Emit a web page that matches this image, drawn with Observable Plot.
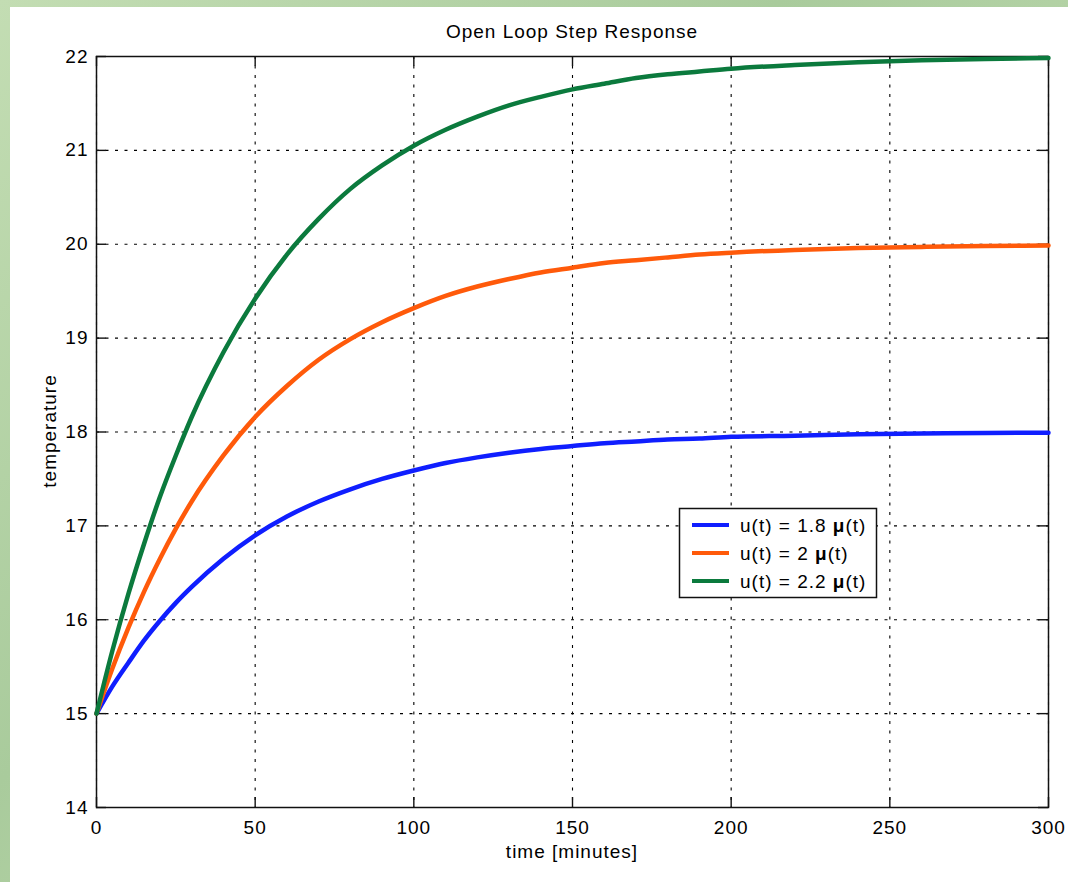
<!DOCTYPE html>
<html>
<head>
<meta charset="utf-8">
<script src="https://cdn.jsdelivr.net/npm/d3@7"></script>
<script src="https://cdn.jsdelivr.net/npm/@observablehq/plot@0.6"></script>
<style>
  html, body { margin: 0; padding: 0; }
  body {
    width: 1068px; height: 882px; overflow: hidden;
    background: linear-gradient(135deg, #c3ddb3 0%, #a9cb9c 40%, #bcd8ad 70%, #a6c999 100%);
    font-family: "Liberation Sans", Arial, Helvetica, sans-serif;
  }
  #page { position: relative; width: 1068px; height: 882px; }
  #white { position: absolute; left: 10px; top: 7px; right: 0; bottom: 0; background: #ffffff; }
  #chart { position: absolute; left: 0; top: 0; }
  #chart svg text { letter-spacing: 1px; }
</style>
</head>
<body>
<div id="page">
  <div id="white"></div>
  <div id="chart"></div>
</div>
<script>
// ---- Data ----
const titleText = "Open Loop Step Response";
const xLabel = "time [minutes]";
const yLabel = "temperature";

const time = [0, 5, 10, 15, 20, 25, 30, 40, 50, 60, 70, 80, 90, 100, 110, 120, 130, 140, 150,
              160, 170, 180, 190, 200, 220, 240, 260, 280, 300];

const tempU18 = [15.00, 15.29, 15.54, 15.78, 15.99, 16.18, 16.35, 16.65, 16.90, 17.10, 17.26, 17.39, 17.50, 17.59,
                 17.67, 17.73, 17.78, 17.82, 17.85, 17.88, 17.90, 17.92, 17.93, 17.95, 17.96, 17.975, 17.983, 17.989, 17.993];

const tempU20 = [15.00, 15.48, 15.91, 16.30, 16.65, 16.97, 17.26, 17.75, 18.16, 18.49, 18.77, 18.99, 19.17, 19.32,
                 19.45, 19.55, 19.63, 19.70, 19.75, 19.80, 19.83, 19.86, 19.89, 19.91, 19.94, 19.96, 19.972, 19.981, 19.988];

const tempU22 = [15.00, 15.67, 16.27, 16.81, 17.31, 17.75, 18.16, 18.85, 19.42, 19.89, 20.27, 20.59, 20.84, 21.05,
                 21.22, 21.36, 21.48, 21.57, 21.65, 21.71, 21.77, 21.81, 21.84, 21.87, 21.91, 21.94, 21.961, 21.974, 21.983];

const seriesKeys = ["1.8", "2", "2.2"];
const seriesColors = ["#0f1eff", "#ff5a0a", "#0b7a3d"];

const xTicks = [0, 50, 100, 150, 200, 250, 300];
const yTicks = [14, 15, 16, 17, 18, 19, 20, 21, 22];

// ---- Build long table ----
const seriesValues = [tempU18, tempU20, tempU22];
const rows = [];
seriesKeys.forEach((k, i) => {
  time.forEach((t, j) => rows.push({series: k, time: t, temp: seriesValues[i][j]}));
});

const W = 1068, H = 882;
const mL = 96, mT = 56, mR = 20, mB = 75;
const frameW = W - mL - mR, frameH = H - mT - mB;
const tickLen = 10;
const gridDash = "3,6.5";
const tickStyle = {stroke: "#111", strokeWidth: 1.4};

const plot = Plot.plot({
  width: W,
  height: H,
  marginLeft: mL,
  marginTop: mT,
  marginRight: mR,
  marginBottom: mB,
  style: {
    background: "transparent",
    fontSize: "19px",
    fontFamily: "'Liberation Sans', Arial, Helvetica, sans-serif",
    color: "#000",
    overflow: "visible"
  },
  x: {domain: [0, 300], label: null},
  y: {domain: [14, 22], label: null},
  color: {domain: seriesKeys, range: seriesColors},
  marks: [
    Plot.gridX(xTicks, {stroke: "#000", strokeOpacity: 1, strokeWidth: 1.1, strokeDasharray: gridDash}),
    Plot.gridY(yTicks, {stroke: "#000", strokeOpacity: 1, strokeWidth: 1.1, strokeDasharray: gridDash}),
    Plot.frame({stroke: "#111", strokeWidth: 1.5}),
    // inward tick marks on all four sides (MATLAB box style)
    Plot.ruleX(xTicks, {x: d => d, insetTop: frameH - tickLen, ...tickStyle}),
    Plot.ruleX(xTicks, {x: d => d, insetBottom: frameH - tickLen, ...tickStyle}),
    Plot.ruleY(yTicks, {y: d => d, insetRight: frameW - tickLen, ...tickStyle}),
    Plot.ruleY(yTicks, {y: d => d, insetLeft: frameW - tickLen, ...tickStyle}),
    Plot.axisX(xTicks, {anchor: "bottom", tickSize: 0, tickPadding: 13, label: null, tickFormat: d => String(d)}),
    Plot.axisY(yTicks, {anchor: "left", tickSize: 0, tickPadding: 8, label: null, tickFormat: d => String(d)}),
    Plot.line(rows, {x: "time", y: "temp", z: "series", stroke: "series", strokeWidth: 4.5, curve: "monotone-x"})
  ]
});

document.getElementById("chart").appendChild(plot);

// ---- Titles and legend (pixel-positioned annotations) ----
const svg = d3.select(plot);
const fontFam = "'Liberation Sans', Arial, Helvetica, sans-serif";

svg.append("text")
  .attr("x", 572).attr("y", 38)
  .attr("text-anchor", "middle")
  .attr("font-size", 19).attr("font-family", fontFam)
  .attr("fill", "#000")
  .text(titleText);

svg.append("text")
  .attr("x", 572).attr("y", 858)
  .attr("text-anchor", "middle")
  .attr("font-size", 19).attr("font-family", fontFam)
  .attr("fill", "#000")
  .text(xLabel);

svg.append("text")
  .attr("transform", "translate(56,431) rotate(-90)")
  .attr("text-anchor", "middle")
  .attr("font-size", 19).attr("font-family", fontFam)
  .attr("fill", "#000")
  .text(yLabel);

const lg = svg.append("g").attr("class", "legend");
lg.append("rect")
  .attr("x", 679.5).attr("y", 508.5).attr("width", 197).attr("height", 89)
  .attr("fill", "#fff").attr("stroke", "#111").attr("stroke-width", 1.5);
const rowY = [525, 553, 581];
seriesKeys.forEach((k, i) => {
  lg.append("line")
    .attr("x1", 692).attr("x2", 729).attr("y1", rowY[i]).attr("y2", rowY[i])
    .attr("stroke", seriesColors[i]).attr("stroke-width", 4);
  const t = lg.append("text")
    .attr("x", 740).attr("y", rowY[i] + 6.8)
    .attr("text-anchor", "start")
    .attr("font-size", 19).attr("font-family", fontFam)
    .attr("fill", "#000");
  t.append("tspan").text(`u(t) = ${k} `);
  t.append("tspan").attr("font-weight", "bold").text("\u03BC");
  t.append("tspan").text("(t)");
});
</script>
</body>
</html>
